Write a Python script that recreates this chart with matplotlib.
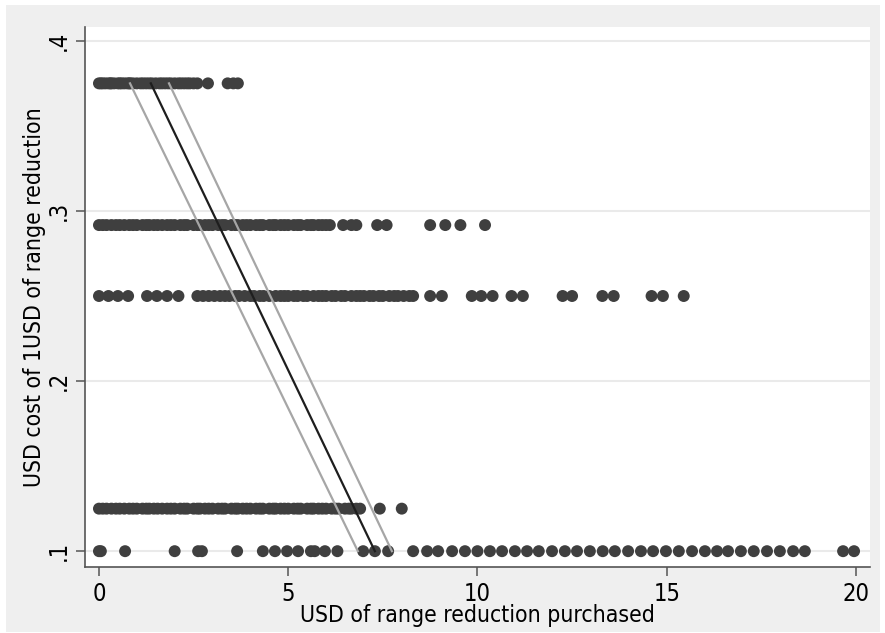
import matplotlib
matplotlib.use("Agg")
import matplotlib.pyplot as plt
from matplotlib import font_manager
from matplotlib.patches import Rectangle

# --------------> DATA
x_375 = [0.0, 0.05, 0.1, 0.17, 0.25, 0.3, 0.33, 0.4, 0.5, 0.55, 0.6, 0.67, 0.75, 0.8,
         0.83, 0.9, 1.0, 1.1, 1.17, 1.25, 1.33, 1.4, 1.5, 1.6, 1.67, 1.75, 1.83, 1.9,
         2.0, 2.1, 2.17, 2.25, 2.33, 2.4, 2.5, 2.6, 2.88, 3.4, 3.55, 3.67]
x_292 = [0.0, 0.1, 0.2, 0.33, 0.45, 0.55, 0.67, 0.8, 0.9, 1.0, 1.15, 1.25, 1.33, 1.45,
         1.55, 1.67, 1.8, 1.9, 2.0, 2.15, 2.25, 2.33, 2.5, 2.6, 2.67, 2.8, 2.9, 3.0,
         3.15, 3.25, 3.33, 3.5, 3.6, 3.67, 3.8, 3.9, 4.0, 4.15, 4.25, 4.33, 4.5, 4.6,
         4.67, 4.8, 4.9, 5.0, 5.15, 5.25, 5.33, 5.5, 5.6, 5.67, 5.8, 5.9, 6.0, 6.1,
         6.45, 6.67, 6.8, 7.35, 7.6, 8.75, 9.15, 9.55, 10.2]
x_250 = [0.0, 0.25, 0.5, 0.77, 1.27, 1.53, 1.8, 2.1, 2.6, 2.75, 2.9, 3.05, 3.2, 3.33,
         3.45, 3.6, 3.7, 3.85, 4.0, 4.1, 4.25, 4.35, 4.5, 4.67, 4.8, 4.9, 5.0, 5.15,
         5.25, 5.4, 5.5, 5.67, 5.8, 5.9, 6.0, 6.15, 6.25, 6.4, 6.5, 6.67, 6.8, 6.9,
         7.0, 7.15, 7.25, 7.4, 7.5, 7.67, 7.8, 7.9, 8.05, 8.2, 8.3, 8.75, 9.06, 9.85,
         10.1, 10.4, 10.9, 11.2, 12.25, 12.5, 13.3, 13.6, 14.6, 14.9, 15.45]
x_125 = [0.0, 0.1, 0.2, 0.33, 0.45, 0.55, 0.67, 0.8, 0.9, 1.0, 1.15, 1.25, 1.33, 1.45,
         1.55, 1.67, 1.8, 1.9, 2.0, 2.15, 2.25, 2.33, 2.5, 2.6, 2.67, 2.8, 2.9, 3.0,
         3.15, 3.25, 3.33, 3.5, 3.6, 3.67, 3.8, 3.9, 4.0, 4.15, 4.25, 4.33, 4.5, 4.6,
         4.67, 4.8, 4.9, 5.0, 5.15, 5.25, 5.33, 5.5, 5.6, 5.67, 5.8, 5.9, 6.0, 6.15,
         6.25, 6.33, 6.5, 6.6, 6.67, 6.8, 6.9, 7.42, 8.0]
x_100 = [0.0, 0.05, 0.69, 2.0, 2.62, 2.72, 3.65, 4.33, 4.65, 4.97, 5.26, 5.6, 5.7,
         5.97, 6.3, 6.98, 7.29, 7.64, 8.3, 8.67, 8.96, 9.33, 9.67, 10.0, 10.33,
         10.65, 10.99, 11.31, 11.62, 11.97, 12.31, 12.63, 12.97, 13.31, 13.63,
         13.98, 14.32, 14.64, 14.98, 15.32, 15.67, 16.01, 16.33, 16.62, 16.96,
         17.3, 17.65, 17.99, 18.34, 18.65, 19.66, 19.95]

rows = [(0.375, x_375), (0.2917, x_292), (0.25, x_250), (0.125, x_125), (0.1, x_100)]

# fitted line and its band (endpoints at top and bottom price)
fit_x = [1.37, 7.29]
fit_y = [0.375, 0.1]
lo_x = [0.82, 6.84]
hi_x = [1.85, 7.74]

yticks = [0.1, 0.2, 0.3, 0.4]
yticklabels = ['.1', '.2', '.3', '.4']
xticks = [0, 5, 10, 15, 20]

# --------------> FONT: prefer a condensed face if one is installed
names = {f.name for f in font_manager.fontManager.ttflist}
cond = [f for f in font_manager.fontManager.ttflist
        if f.name == 'DejaVu Sans' and f.stretch == 'condensed' and f.style == 'normal'
        and f.weight in (400, 'normal')]
if 'Liberation Sans Narrow' in names:
    plt.rcParams['font.family'] = ['Liberation Sans Narrow', 'DejaVu Sans']
elif cond:
    plt.rcParams['font.family'] = ['DejaVu Sans']
    plt.rcParams['font.stretch'] = 'condensed'
else:
    plt.rcParams['font.family'] = ['Liberation Sans', 'DejaVu Sans']

# white page with the grey graph region inset a few pixels
fig = plt.figure(figsize=(8.85, 6.33), dpi=100, facecolor='white')
fig.patches.append(Rectangle((6 / 885, 1 / 633), 874 / 885, 627 / 633,
                             transform=fig.transFigure, facecolor='#efefef',
                             edgecolor='none', zorder=-5))
ax = fig.add_axes([0.096, 0.104, 0.887, 0.853])
ax.set_facecolor('white')

for yv, xs in rows:
    ax.scatter(xs, [yv] * len(xs), s=74, color='#3f3f3f', edgecolors='none', zorder=3)

ax.plot(lo_x, fit_y, color='#a6a6a6', lw=1.6, zorder=4)
ax.plot(hi_x, fit_y, color='#a6a6a6', lw=1.6, zorder=4)
ax.plot(fit_x, fit_y, color='#1e1e1e', lw=1.6, zorder=4)

ax.set_xlim(-0.37, 20.37)
ax.set_ylim(0.0906, 0.408)
ax.set_xticks(xticks)
ax.set_yticks(yticks)
ax.set_yticklabels(yticklabels, rotation=90, va='center')
ax.grid(axis='y', color='#eaeaea', lw=1.5, zorder=0)
ax.set_axisbelow(True)

for side in ['top', 'right']:
    ax.spines[side].set_visible(False)
for side in ['left', 'bottom']:
    ax.spines[side].set_color('#555555')
    ax.spines[side].set_linewidth(1.2)
ax.tick_params(direction='out', length=6.5, width=1.1, color='#555555',
               labelsize=17, labelcolor='black', pad=4)

ax.set_xlabel('USD of range reduction purchased', fontsize=16.5, labelpad=-1)
ax.set_ylabel('USD cost of 1USD of range reduction', fontsize=16.5, labelpad=0)

fig.savefig('out.png', dpi=100, facecolor=fig.get_facecolor())
